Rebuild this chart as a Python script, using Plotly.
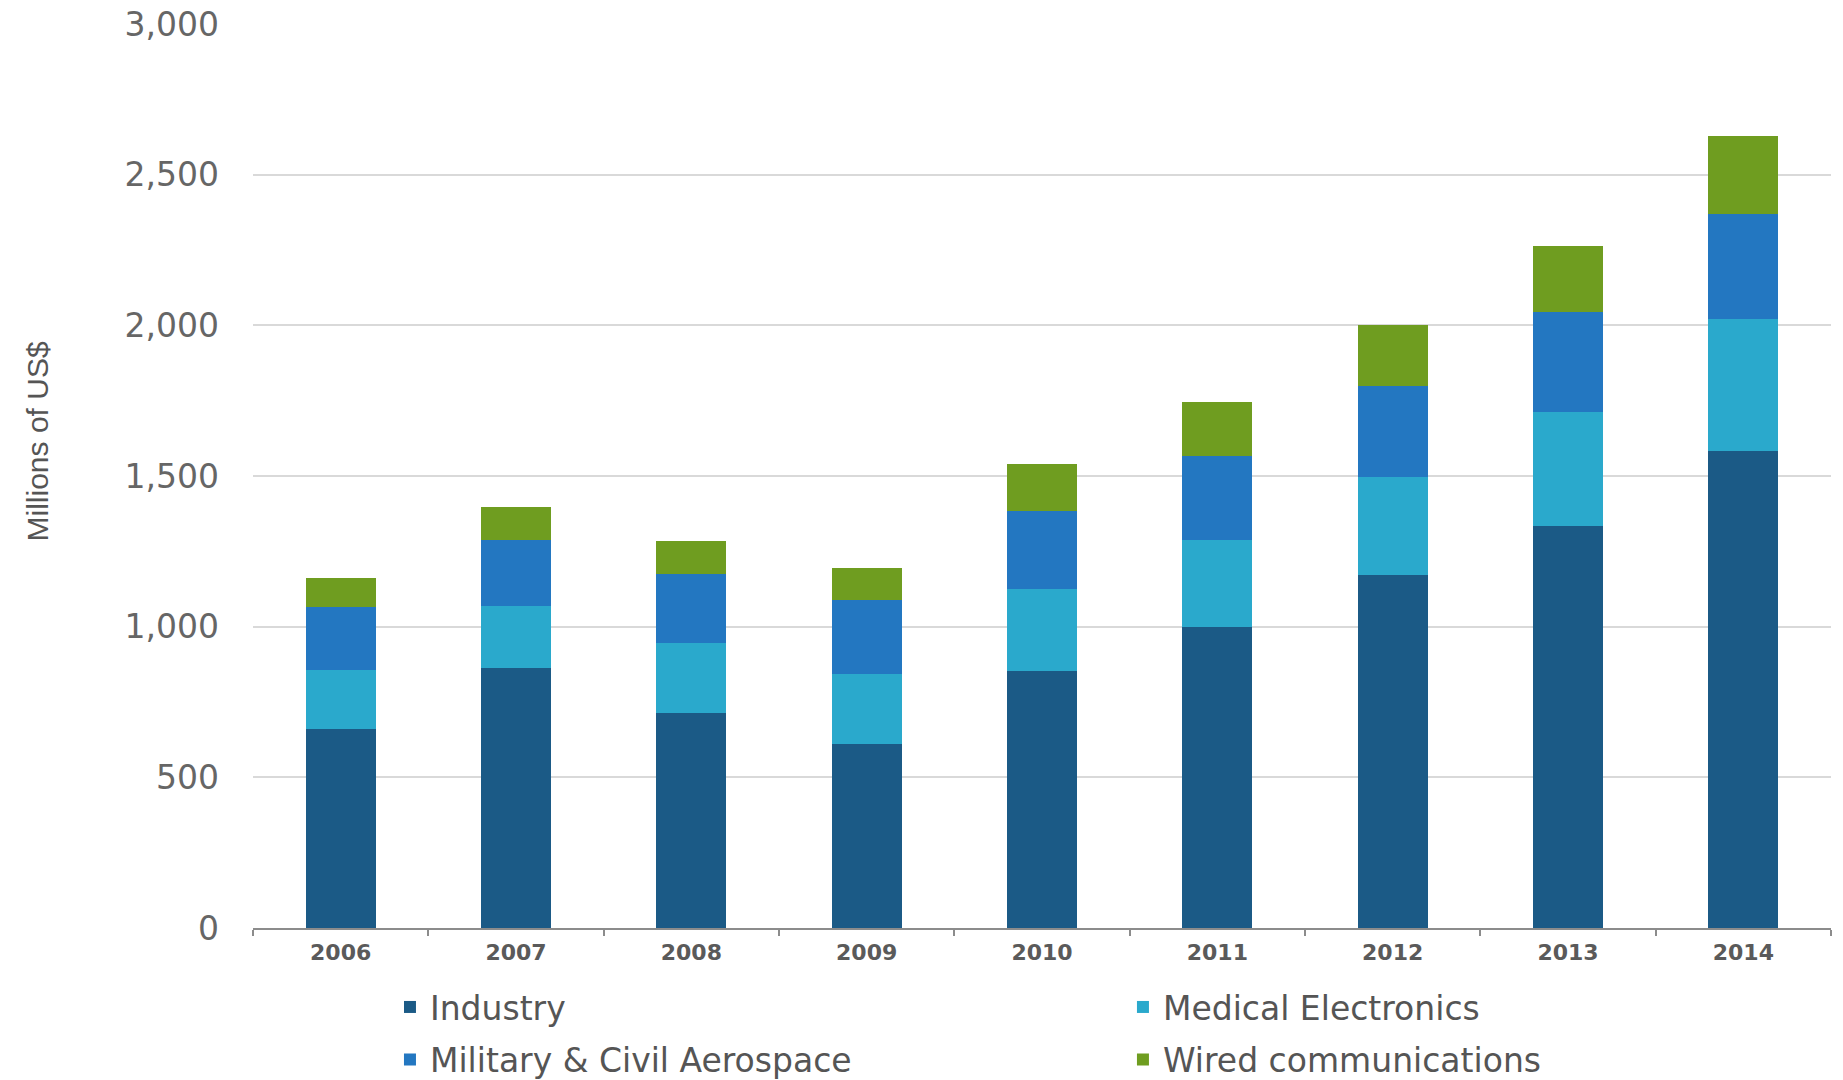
import plotly.graph_objects as go

# Semiconductor market by application, millions of US$
years = ["2006", "2007", "2008", "2009", "2010", "2011", "2012", "2013", "2014"]
industry = [660, 862, 713, 609, 854, 999, 1170, 1334, 1584]
medical = [197, 208, 233, 234, 270, 289, 326, 380, 438]
aerospace = [208, 216, 229, 246, 261, 280, 304, 330, 347]
wired = [97, 111, 109, 105, 156, 176, 200, 218, 259]

series_names = ["Industry", "Medical Electronics",
                "Military & Civil Aerospace", "Wired communications"]
series_values = [industry, medical, aerospace, wired]
series_colors = ["#1b5a86", "#2aa9cc", "#2377c1", "#6f9d20"]
# each entry gets its own legend box so the 2x2 grid can be placed freely
series_legend = ["legend", "legend2", "legend3", "legend4"]
legend_pos = [(0.0868, -0.0874), (0.5513, -0.0874),
              (0.0868, -0.1455), (0.5513, -0.1455)]

y_ticks = [0, 500, 1000, 1500, 2000, 2500, 3000]
y_tick_text = ["0", "500", "1,000", "1,500", "2,000", "2,500", "3,000"]

fig = go.Figure()
for name, vals, col, leg in zip(series_names, series_values, series_colors, series_legend):
    fig.add_trace(go.Bar(
        x=years, y=vals, name=name, marker=dict(color=col, line=dict(width=0)),
        legend=leg, showlegend=True,
    ))

legend_font = dict(family="DejaVu Sans", size=33, color="#555555")
legends = {}
for leg, (lx, ly) in zip(series_legend, legend_pos):
    legends[leg] = dict(
        x=lx, y=ly, xanchor="left", yanchor="middle", orientation="h",
        font=legend_font, bgcolor="rgba(0,0,0,0)",
    )

fig.update_layout(
    width=1843, height=1080,
    margin=dict(l=253, r=12, t=24, b=152, autoexpand=False),
    paper_bgcolor="white", plot_bgcolor="white",
    showlegend=True,
    barmode="stack", bargap=0.6,
    font=dict(family="DejaVu Sans", color="#666666"),
    xaxis=dict(
        type="category", range=[-0.5, 8.5],
        showline=True, linecolor="#8c8c8c", linewidth=2,
        ticks="outside", tickson="boundaries", ticklen=6, tickwidth=2,
        tickcolor="#8c8c8c", showgrid=False,
        ticklabelstandoff=4,
        tickfont=dict(family="DejaVu Sans", size=22, color="#5a5a5a", weight="bold"),
    ),
    yaxis=dict(
        range=[0, 3000], tickvals=y_ticks, ticktext=y_tick_text,
        showgrid=True, gridcolor="#d9d9d9", gridwidth=2,
        zeroline=False, showline=False, ticks="",
        ticklabelstandoff=33,
        tickfont=dict(family="DejaVu Sans", size=33, color="#666666"),
    ),
    annotations=[dict(
        text="Millions of US$", textangle=-90, showarrow=False,
        xref="paper", yref="paper", x=-0.1366, y=0.5387,
        xanchor="center", yanchor="middle",
        font=dict(family="Liberation Sans", size=30, color="#555555"),
    )],
    **legends,
)

fig.write_html("out.html")
